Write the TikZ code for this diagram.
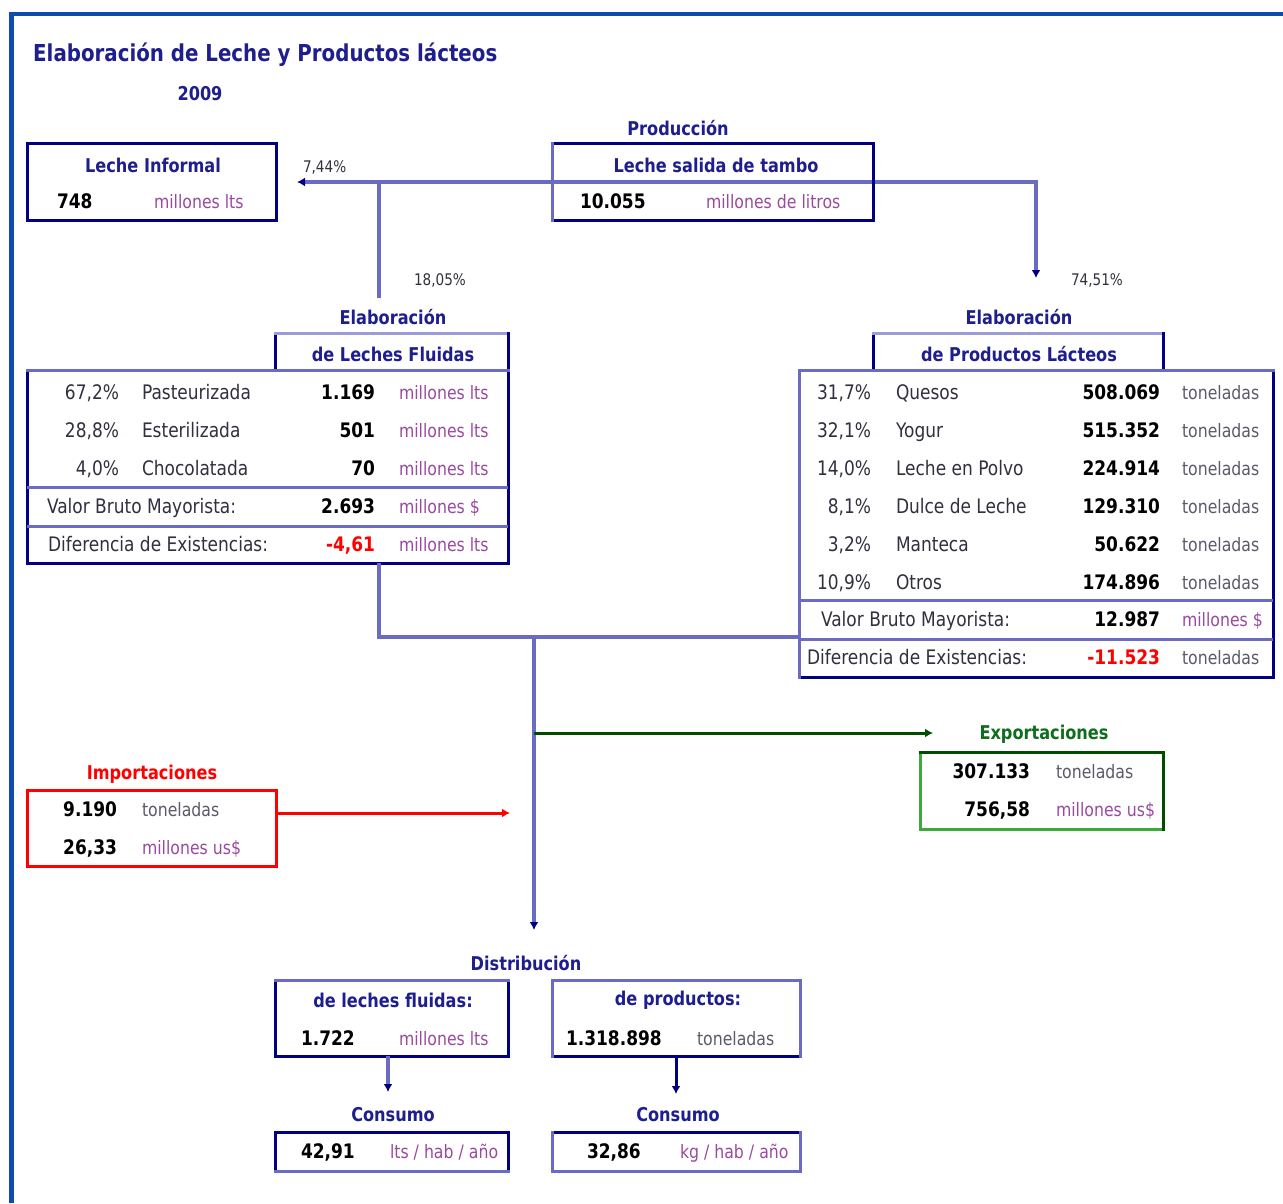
\documentclass[tikz,border=0pt]{standalone}
\usepackage{fontspec}
\setmainfont{DejaVu Sans}[FakeStretch=0.85]
\usetikzlibrary{arrows.meta}
\definecolor{frameblue}{HTML}{0B4CAE}
\definecolor{navy}{HTML}{000080}
\definecolor{lite}{HTML}{6B6BC4}
\definecolor{paler}{HTML}{9C9CDC}
\definecolor{headc}{HTML}{1E1E8E}
\definecolor{bodyc}{HTML}{303040}
\definecolor{millc}{HTML}{9A4A9E}
\definecolor{tonc}{HTML}{5A5A6C}
\definecolor{expg}{HTML}{0E6E1E}
\definecolor{dgreen}{HTML}{004D00}
\definecolor{lgreen}{HTML}{3AAA3A}
\definecolor{impred}{HTML}{FF0000}
\tikzset{
 t/.style={inner sep=0pt, outer sep=0pt, yshift=-4pt, font=\fontsize{20}{24}\selectfont, text=bodyc},
 lname/.style={t, anchor=mid west},
 lpct/.style={t, anchor=mid east},
 lnum/.style={t, anchor=mid east, font=\fontsize{20}{24}\selectfont\bfseries, text=black},
 lnumL/.style={t, anchor=mid west, font=\fontsize{20}{24}\selectfont\bfseries, text=black},
 lneg/.style={lnum, text=impred},
 umill/.style={t, anchor=mid west, font=\fontsize{18.5}{22}\selectfont, text=millc},
 uton/.style={umill, text=tonc},
 head/.style={inner sep=0pt, outer sep=0pt, font=\fontsize{19}{23}\selectfont\bfseries, text=headc},
 small/.style={inner sep=0pt, outer sep=0pt, yshift=-3.5pt, font=\fontsize{16}{20}\selectfont, text=bodyc, anchor=mid west},
 box/.style={draw=navy, line width=3pt, inner sep=0pt, outer sep=0pt},
 shell/.style={inner sep=0pt, outer sep=0pt},
 conn/.style={draw=lite, line width=4pt},
 sepl/.style={draw=lite, line width=3pt},
 side/.style={line width=3pt, line cap=rect},
 navytip/.style={-{Latex[length=8pt,width=9pt,color=navy]}},
}
\begin{document}
\begin{tikzpicture}[x=1pt,y=-1pt]
\useasboundingbox[fill=white] (0,0) rectangle (1283,1203);
% frame
\draw[frameblue, line width=5pt] (11,1203) -- (11,13.5);
\draw[frameblue, line width=4pt] (8.5,13.5) -- (1283,13.5);

% ---------- connectors ----------
\coordinate (aL) at (297,182);
\coordinate (aR) at (1036,182);
\coordinate (aD) at (1036,278);
\draw[conn, {Latex[length=8pt,width=9pt,color=navy]}-{Latex[length=8pt,width=9pt,color=navy]}] (aL) -- (aR) -- (aD);
\coordinate (bT) at (379,182);
\coordinate (bB) at (379,298);
\draw[conn] (bT) -- (bB);

% ---------- boxes ----------
\node[box, minimum width=249pt, minimum height=77pt] (inf) at (151.5,181.5) {};
\node[box, minimum width=321pt, minimum height=77pt] (prod) at (712.5,181.5) {};
\draw[lite, side] (prod.north west) -- (prod.south west);

\node[shell, minimum width=233pt, minimum height=37pt] (flh) at (391.5,351.5) {};
\draw[navy, side] (flh.south west) -- (flh.north west);
\draw[paler, side] (flh.north west) -- (flh.north east);
\draw[navy, side] (flh.north east) -- (flh.south east);
\node[box, minimum width=481pt, minimum height=193pt] (flt) at (267.5,466.5) {};
\draw[lite, side] (flt.north west) -- (flt.north east);

\node[shell, minimum width=290pt, minimum height=37pt] (pph) at (1018,351.5) {};
\draw[navy, side] (pph.south west) -- (pph.north west);
\draw[paler, side] (pph.north west) -- (pph.north east);
\draw[navy, side] (pph.north east) -- (pph.south east);
\node[box, minimum width=474pt, minimum height=307pt] (ppt) at (1036,523.5) {};
\draw[lite, side] (ppt.south west) -- (ppt.north west) -- (ppt.north east);

% lower connectors
\coordinate (cJ) at (379,637);
\draw[conn] (flt.south -| cJ) -- (cJ) -- (ppt.west |- cJ);
\coordinate (dT) at (534,637);
\coordinate (dB) at (534,930);
\draw[conn, navytip] (dT) -- (dB);
\coordinate (gS) at (534,733);
\coordinate (gE) at (933,733);
\draw[dgreen, line width=3pt, -{Latex[length=8pt,width=9pt]}] (gS) -- (gE);

\node[draw=impred, line width=3pt, inner sep=0pt, outer sep=0pt, minimum width=249pt, minimum height=76pt] (imp) at (151.5,828) {};
\coordinate (rE) at (510,813);
\draw[impred, line width=3pt, -{Latex[length=8pt,width=9pt]}] (imp.east |- rE) -- (rE);

\node[shell, minimum width=243pt, minimum height=77pt] (exp) at (1041.5,790.5) {};
\draw[lgreen, side] (exp.north west) -- (exp.south west) -- (exp.south east);
\draw[dgreen, side] (exp.north west) -- (exp.north east) -- (exp.south east);

\node[box, minimum width=233pt, minimum height=76pt] (dfl) at (391.5,1018) {};
\draw[lite, side] (dfl.north west) -- (dfl.north east);
\node[box, minimum width=248pt, minimum height=76pt] (dpr) at (676,1018) {};
\draw[lite, side] (dpr.south west) -- (dpr.north west) -- (dpr.north east) -- (dpr.south east);

\coordinate (e1) at (388,1092);
\draw[conn, navytip] (dfl.south -| e1) -- (e1);
\coordinate (e2) at (676,1094);
\draw[navy, line width=3pt, navytip] (dpr.south -| e2) -- (e2);

\node[box, minimum width=233pt, minimum height=39pt] (cfl) at (391.5,1151.5) {};
\draw[lite, side] (cfl.south west) -- (cfl.south east);
\node[box, minimum width=248pt, minimum height=39pt] (cpr) at (676,1151.5) {};
\draw[lite, side] (cpr.north west) -- (cpr.south west) -- (cpr.south east) -- (cpr.north east);

% ---------- texts ----------
\node[inner sep=0pt, anchor=mid west, font=\fontsize{23.3}{27}\selectfont\bfseries, text=headc] (title) at (33,59) {Elaboración de Leche y Productos lácteos};
\node[head] (year) at (200,94) {2009};

\node[head] (infT) at (153,165) {Leche Informal};
\node[lnumL] (infN) at (57,202) {748};
\node[umill] (infU) at (154,202) {millones lts};
\node[small] (p744) at (303,166) {7,44\%};

\node[head] (prodL) at (678,128) {Producción};
\node[head] (prodT) at (716,165) {Leche salida de tambo};
\node[lnumL] (prodN) at (580,202) {10.055};
\node[umill] (prodU) at (706,202) {millones de litros};

\node[small] (p1805) at (414,279) {18,05\%};
\node[small] (p7451) at (1071,279) {74,51\%};

% fluidas
\node[head] (flE) at (393,317) {Elaboración};
\node[head] (flH) at (393,354) {de Leches Fluidas};
\node[lpct] (f1p) at (119,393) {67,2\%};
\node[lname] (f1n) at (142,393) {Pasteurizada};
\node[lnum] (f1v) at (375,393) {1.169};
\node[umill] (f1u) at (399,393) {millones lts};
\node[lpct] (f2p) at (119,431) {28,8\%};
\node[lname] (f2n) at (142,431) {Esterilizada};
\node[lnum] (f2v) at (375,431) {501};
\node[umill] (f2u) at (399,431) {millones lts};
\node[lpct] (f3p) at (119,469) {4,0\%};
\node[lname] (f3n) at (142,469) {Chocolatada};
\node[lnum] (f3v) at (375,469) {70};
\node[umill] (f3u) at (399,469) {millones lts};
\draw[sepl] (flt.west |- 0,487) -- (flt.east |- 0,487);
\node[lname] (f4n) at (47,507) {Valor Bruto Mayorista:};
\node[lnum] (f4v) at (375,507) {2.693};
\node[umill] (f4u) at (399,507) {millones \$};
\draw[sepl] (flt.west |- 0,526) -- (flt.east |- 0,526);
\node[lname] (f5n) at (48,545) {Diferencia de Existencias:};
\node[lneg] (f5v) at (375,545) {-4,61};
\node[umill] (f5u) at (399,545) {millones lts};

% productos
\node[head] (ppE) at (1019,317) {Elaboración};
\node[head] (ppH) at (1019,354) {de Productos Lácteos};
\node[lpct] (q1p) at (871,393) {31,7\%};
\node[lname] (q1n) at (896,393) {Quesos};
\node[lnum] (q1v) at (1160,393) {508.069};
\node[uton] (q1u) at (1182,393) {toneladas};
\node[lpct] (q2p) at (871,431) {32,1\%};
\node[lname] (q2n) at (896,431) {Yogur};
\node[lnum] (q2v) at (1160,431) {515.352};
\node[uton] (q2u) at (1182,431) {toneladas};
\node[lpct] (q3p) at (871,469) {14,0\%};
\node[lname] (q3n) at (896,469) {Leche en Polvo};
\node[lnum] (q3v) at (1160,469) {224.914};
\node[uton] (q3u) at (1182,469) {toneladas};
\node[lpct] (q4p) at (871,507) {8,1\%};
\node[lname] (q4n) at (896,507) {Dulce de Leche};
\node[lnum] (q4v) at (1160,507) {129.310};
\node[uton] (q4u) at (1182,507) {toneladas};
\node[lpct] (q5p) at (871,545) {3,2\%};
\node[lname] (q5n) at (896,545) {Manteca};
\node[lnum] (q5v) at (1160,545) {50.622};
\node[uton] (q5u) at (1182,545) {toneladas};
\node[lpct] (q6p) at (871,583) {10,9\%};
\node[lname] (q6n) at (896,583) {Otros};
\node[lnum] (q6v) at (1160,583) {174.896};
\node[uton] (q6u) at (1182,583) {toneladas};
\draw[sepl] (ppt.west |- 0,600) -- (ppt.east |- 0,600);
\node[lname] (q7n) at (821,620) {Valor Bruto Mayorista:};
\node[lnum] (q7v) at (1160,620) {12.987};
\node[umill] (q7u) at (1182,620) {millones \$};
\draw[sepl] (ppt.west |- 0,639) -- (ppt.east |- 0,639);
\node[lname] (q8n) at (807,658) {Diferencia de Existencias:};
\node[lneg] (q8v) at (1160,658) {-11.523};
\node[uton] (q8u) at (1182,658) {toneladas};

% importaciones
\node[head, text=impred] (impT) at (152,774) {Importaciones};
\node[lnum] (i1v) at (117,810) {9.190};
\node[uton] (i1u) at (142,810) {toneladas};
\node[lnum] (i2v) at (117,848) {26,33};
\node[umill] (i2u) at (142,848) {millones us\$};

% exportaciones
\node[head, text=expg] (expT) at (1044,734) {Exportaciones};
\node[lnum] (x1v) at (1030,772) {307.133};
\node[uton] (x1u) at (1056,772) {toneladas};
\node[lnum] (x2v) at (1030,810) {756,58};
\node[umill] (x2u) at (1056,810) {millones us\$};

% distribucion
\node[head] (distT) at (526,963) {Distribución};
\node[head] (dflT) at (393,1000) {de leches fluidas:};
\node[lnumL] (dflN) at (301,1039) {1.722};
\node[umill] (dflU) at (399,1039) {millones lts};
\node[head] (dprT) at (678,1000) {de productos:};
\node[lnumL] (dprN) at (566,1039) {1.318.898};
\node[uton] (dprU) at (697,1039) {toneladas};

\node[head] (cflT) at (393,1115) {Consumo};
\node[head] (cprT) at (678,1115) {Consumo};
\node[lnumL] (cflN) at (301,1152) {42,91};
\node[umill] (cflU) at (390,1152) {lts / hab / año};
\node[lnumL] (cprN) at (587,1152) {32,86};
\node[umill] (cprU) at (680,1152) {kg / hab / año};
\end{tikzpicture}
\end{document}
